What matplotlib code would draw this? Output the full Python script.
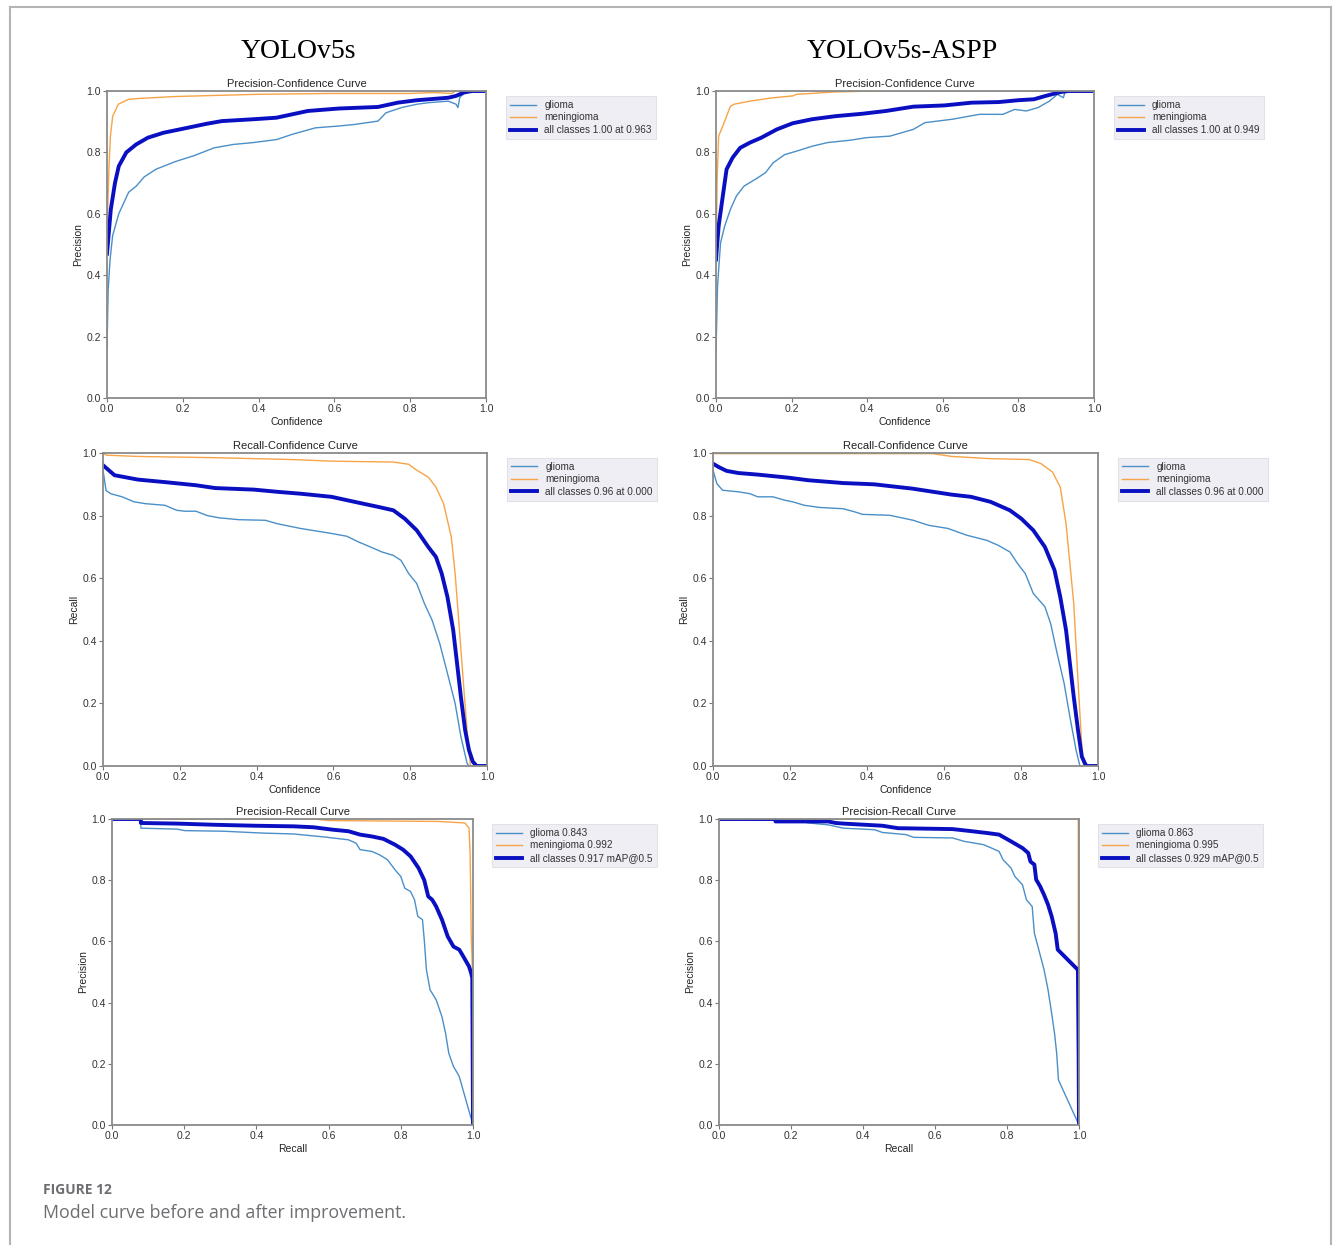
import matplotlib
matplotlib.use('Agg')
import matplotlib.pyplot as plt
from matplotlib.lines import Line2D

plt.rcParams['font.family'] = ['Liberation Sans', 'DejaVu Sans']

W, H = 1333, 1245

GLIOMA_C = '#4a8fc8'
MENIN_C = '#f7a448'
ALL_C = '#0a10c2'

# ---- YOLOv5s : Precision-Confidence ----
pc1_gl_x = [0, 0.003, 0.008, 0.015, 0.031, 0.057, 0.077, 0.098, 0.129, 0.18, 0.231, 0.283, 0.334, 0.386, 0.448,
            0.489, 0.55, 0.612, 0.653, 0.715, 0.736, 0.777, 0.818, 0.849, 0.9, 0.921, 0.926, 0.931, 0.95, 1.0]
pc1_gl_y = [0.16, 0.35, 0.45, 0.53, 0.60, 0.67, 0.69, 0.72, 0.745, 0.77, 0.79, 0.815, 0.826, 0.832, 0.842,
            0.859, 0.88, 0.886, 0.891, 0.902, 0.929, 0.946, 0.957, 0.962, 0.967, 0.957, 0.946, 0.98, 1.0, 1.0]
pc1_me_x = [0, 0.002, 0.005, 0.009, 0.015, 0.03, 0.057, 0.088, 0.18, 0.39, 0.59, 0.8, 0.86, 0.91, 0.92, 1.0]
pc1_me_y = [0.5, 0.62, 0.745, 0.853, 0.918, 0.957, 0.973, 0.976, 0.982, 0.989, 0.992, 0.992, 0.995, 0.992, 1.0, 1.0]
pc1_all_x = [0, 0.01, 0.021, 0.031, 0.051, 0.077, 0.108, 0.149, 0.2, 0.262, 0.303, 0.386, 0.447, 0.53, 0.612,
             0.715, 0.767, 0.818, 0.9, 0.921, 0.941, 0.963, 1.0]
pc1_all_y = [0.47, 0.614, 0.70, 0.755, 0.80, 0.826, 0.848, 0.864, 0.877, 0.893, 0.902, 0.908, 0.913, 0.935, 0.943,
             0.948, 0.962, 0.97, 0.978, 0.984, 0.995, 1.0, 1.0]

# ---- YOLOv5s-ASPP : Precision-Confidence ----
pc2_gl_x = [0, 0.004, 0.012, 0.023, 0.038, 0.054, 0.074, 0.11, 0.131, 0.151, 0.182, 0.213, 0.254, 0.295, 0.357,
            0.398, 0.46, 0.522, 0.553, 0.625, 0.697, 0.759, 0.79, 0.821, 0.852, 0.882, 0.903, 0.919, 0.924, 1.0]
pc2_gl_y = [0.147, 0.364, 0.505, 0.56, 0.614, 0.658, 0.69, 0.717, 0.734, 0.766, 0.793, 0.804, 0.82, 0.832, 0.84,
            0.848, 0.853, 0.875, 0.897, 0.908, 0.924, 0.924, 0.94, 0.935, 0.946, 0.967, 0.989, 0.978, 1.0, 1.0]
pc2_me_x = [0, 0.003, 0.007, 0.018, 0.028, 0.038, 0.048, 0.09, 0.151, 0.203, 0.213, 0.316, 0.42, 1.0]
pc2_me_y = [0.42, 0.71, 0.853, 0.886, 0.918, 0.95, 0.957, 0.967, 0.978, 0.984, 0.989, 0.997, 1.0, 1.0]
pc2_all_x = [0, 0.007, 0.018, 0.028, 0.044, 0.064, 0.09, 0.12, 0.161, 0.203, 0.254, 0.316, 0.388, 0.45, 0.522,
             0.604, 0.676, 0.748, 0.8, 0.841, 0.872, 0.913, 0.934, 1.0]
pc2_all_y = [0.451, 0.56, 0.658, 0.745, 0.783, 0.815, 0.832, 0.848, 0.875, 0.895, 0.908, 0.918, 0.926, 0.935,
             0.949, 0.953, 0.962, 0.964, 0.97, 0.973, 0.984, 0.997, 1.0, 1.0]

# ---- YOLOv5s : Recall-Confidence ----
rc1_gl_x = [0, 0.008, 0.02, 0.05, 0.081, 0.111, 0.161, 0.192, 0.212, 0.242, 0.272, 0.302, 0.353, 0.423, 0.454,
            0.514, 0.595, 0.635, 0.665, 0.696, 0.726, 0.756, 0.776, 0.796, 0.817, 0.837, 0.857, 0.877, 0.897,
            0.917, 0.932, 0.948, 0.953]
rc1_gl_y = [0.945, 0.88, 0.87, 0.86, 0.844, 0.838, 0.833, 0.817, 0.814, 0.814, 0.80, 0.793, 0.787, 0.785, 0.774,
            0.759, 0.743, 0.734, 0.716, 0.70, 0.684, 0.673, 0.657, 0.615, 0.583, 0.519, 0.466, 0.391, 0.296,
            0.20, 0.094, 0.009, 0.0]
rc1_me_x = [0, 0.01, 0.091, 0.292, 0.494, 0.595, 0.756, 0.796, 0.817, 0.847, 0.867, 0.887, 0.907, 0.917, 0.927,
            0.938, 0.948, 0.956, 0.958]
rc1_me_y = [0.998, 0.993, 0.989, 0.985, 0.979, 0.974, 0.971, 0.964, 0.945, 0.923, 0.891, 0.838, 0.732, 0.615,
            0.455, 0.274, 0.115, 0.009, 0.0]
rc1_all_x = [0, 0.015, 0.03, 0.091, 0.161, 0.242, 0.292, 0.393, 0.454, 0.514, 0.595, 0.655, 0.716, 0.756, 0.786,
             0.817, 0.847, 0.867, 0.882, 0.897, 0.912, 0.922, 0.932, 0.943, 0.953, 0.963, 0.973, 1.0]
rc1_all_y = [0.961, 0.945, 0.929, 0.915, 0.907, 0.897, 0.888, 0.883, 0.876, 0.87, 0.86, 0.844, 0.828, 0.817,
             0.79, 0.753, 0.70, 0.668, 0.615, 0.54, 0.434, 0.328, 0.221, 0.115, 0.051, 0.014, 0.0, 0.0]

# ---- YOLOv5s-ASPP : Recall-Confidence ----
rc2_gl_x = [0, 0.01, 0.025, 0.066, 0.096, 0.116, 0.156, 0.187, 0.207, 0.237, 0.277, 0.338, 0.368, 0.388, 0.459,
            0.52, 0.56, 0.61, 0.66, 0.711, 0.741, 0.771, 0.791, 0.811, 0.832, 0.862, 0.877, 0.892, 0.912, 0.927,
            0.943, 0.953]
rc2_gl_y = [0.945, 0.902, 0.881, 0.876, 0.87, 0.86, 0.86, 0.849, 0.844, 0.833, 0.826, 0.822, 0.812, 0.804, 0.801,
            0.785, 0.769, 0.759, 0.737, 0.721, 0.705, 0.684, 0.647, 0.615, 0.551, 0.509, 0.455, 0.37, 0.264,
            0.157, 0.051, 0.0]
rc2_me_x = [0, 0.57, 0.62, 0.72, 0.822, 0.852, 0.882, 0.902, 0.917, 0.927, 0.937, 0.948, 0.958, 0.963]
rc2_me_y = [0.998, 0.998, 0.989, 0.982, 0.979, 0.966, 0.939, 0.891, 0.774, 0.647, 0.519, 0.274, 0.062, 0.0]
rc2_all_x = [0, 0.015, 0.035, 0.066, 0.116, 0.197, 0.247, 0.338, 0.418, 0.519, 0.62, 0.67, 0.721, 0.771, 0.801,
             0.832, 0.862, 0.887, 0.902, 0.917, 0.927, 0.937, 0.948, 0.958, 0.968, 0.973, 1.0]
rc2_all_y = [0.966, 0.955, 0.943, 0.936, 0.931, 0.921, 0.913, 0.904, 0.9, 0.886, 0.867, 0.86, 0.844, 0.817, 0.79,
             0.753, 0.70, 0.626, 0.54, 0.434, 0.328, 0.221, 0.115, 0.03, 0.003, 0.0, 0.0]

# ---- YOLOv5s : Precision-Recall ----
pr1_gl_x = [0, 0.08, 0.08, 0.18, 0.202, 0.31, 0.417, 0.504, 0.59, 0.655, 0.676, 0.687, 0.72, 0.741, 0.763, 0.784,
            0.80, 0.811, 0.827, 0.838, 0.847, 0.86, 0.865, 0.871, 0.881, 0.898, 0.914, 0.924, 0.933, 0.946, 0.957,
            0.962, 1.0]
pr1_gl_y = [1.0, 1.0, 0.97, 0.967, 0.962, 0.96, 0.954, 0.951, 0.941, 0.932, 0.921, 0.90, 0.894, 0.883, 0.867,
            0.834, 0.812, 0.774, 0.763, 0.736, 0.682, 0.671, 0.605, 0.507, 0.442, 0.409, 0.354, 0.30, 0.234,
            0.191, 0.169, 0.158, 0.0]
pr1_me_x = [0, 0.558, 0.6, 0.903, 0.978, 0.989, 0.992, 0.995, 0.998, 1.0, 1.0]
pr1_me_y = [1.0, 1.0, 0.995, 0.992, 0.987, 0.97, 0.889, 0.627, 0.518, 0.45, 0.0]
pr1_all_x = [0, 0.08, 0.08, 0.18, 0.288, 0.396, 0.504, 0.558, 0.612, 0.655, 0.687, 0.72, 0.752, 0.784, 0.806,
             0.827, 0.849, 0.865, 0.876, 0.887, 0.898, 0.914, 0.93, 0.946, 0.962, 0.973, 0.989, 0.995, 0.998, 1.0]
pr1_all_y = [1.0, 1.0, 0.987, 0.985, 0.981, 0.978, 0.976, 0.973, 0.965, 0.96, 0.949, 0.943, 0.935, 0.916, 0.90,
             0.878, 0.84, 0.80, 0.747, 0.736, 0.714, 0.671, 0.616, 0.583, 0.573, 0.551, 0.518, 0.496, 0.48, 0.0]

# ---- YOLOv5s-ASPP : Precision-Recall ----
pr2_gl_x = [0, 0.157, 0.216, 0.249, 0.303, 0.346, 0.432, 0.454, 0.519, 0.541, 0.649, 0.681, 0.735, 0.757, 0.778,
            0.789, 0.811, 0.822, 0.843, 0.854, 0.870, 0.876, 0.886, 0.903, 0.914, 0.924, 0.932, 0.938, 0.943, 1.0]
pr2_gl_y = [1.0, 0.996, 0.996, 0.987, 0.981, 0.97, 0.965, 0.956, 0.949, 0.94, 0.938, 0.927, 0.916, 0.905, 0.894,
            0.867, 0.84, 0.812, 0.785, 0.736, 0.714, 0.627, 0.583, 0.507, 0.442, 0.365, 0.30, 0.234, 0.147, 0.0]
pr2_me_x = [0, 0.998, 0.998, 1.0]
pr2_me_y = [1.0, 1.0, 0.5, 0.0]
pr2_all_x = [0, 0.157, 0.157, 0.303, 0.324, 0.346, 0.454, 0.497, 0.649, 0.703, 0.746, 0.778, 0.811, 0.843, 0.859,
             0.865, 0.876, 0.881, 0.892, 0.903, 0.914, 0.924, 0.935, 0.941, 0.997, 0.999, 1.0]
pr2_all_y = [1.0, 1.0, 0.992, 0.992, 0.987, 0.985, 0.978, 0.97, 0.967, 0.96, 0.954, 0.949, 0.927, 0.905, 0.889,
             0.861, 0.851, 0.802, 0.78, 0.752, 0.72, 0.682, 0.627, 0.573, 0.507, 0.218, 0.0]

panels = [
    # (left, right, top, bottom) px, title, xlabel, ylabel, curves, legend labels
    ((107, 486, 91, 398), 'Precision-Confidence Curve', 'Confidence', 'Precision',
     [(pc1_gl_x, pc1_gl_y), (pc1_me_x, pc1_me_y), (pc1_all_x, pc1_all_y)],
     ['glioma', 'meningioma', 'all classes 1.00 at 0.963']),
    ((716, 1094, 91, 398), 'Precision-Confidence Curve', 'Confidence', 'Precision',
     [(pc2_gl_x, pc2_gl_y), (pc2_me_x, pc2_me_y), (pc2_all_x, pc2_all_y)],
     ['glioma', 'meningioma', 'all classes 1.00 at 0.949']),
    ((103, 487, 453, 766), 'Recall-Confidence Curve', 'Confidence', 'Recall',
     [(rc1_gl_x, rc1_gl_y), (rc1_me_x, rc1_me_y), (rc1_all_x, rc1_all_y)],
     ['glioma', 'meningioma', 'all classes 0.96 at 0.000']),
    ((713, 1098, 453, 766), 'Recall-Confidence Curve', 'Confidence', 'Recall',
     [(rc2_gl_x, rc2_gl_y), (rc2_me_x, rc2_me_y), (rc2_all_x, rc2_all_y)],
     ['glioma', 'meningioma', 'all classes 0.96 at 0.000']),
    ((112, 473, 819, 1125), 'Precision-Recall Curve', 'Recall', 'Precision',
     [(pr1_gl_x, pr1_gl_y), (pr1_me_x, pr1_me_y), (pr1_all_x, pr1_all_y)],
     ['glioma 0.843', 'meningioma 0.992', 'all classes 0.917 mAP@0.5']),
    ((719, 1079, 819, 1125), 'Precision-Recall Curve', 'Recall', 'Precision',
     [(pr2_gl_x, pr2_gl_y), (pr2_me_x, pr2_me_y), (pr2_all_x, pr2_all_y)],
     ['glioma 0.863', 'meningioma 0.995', 'all classes 0.929 mAP@0.5']),
]

fig = plt.figure(figsize=(W / 100, H / 100), dpi=100)
fig.patch.set_facecolor('white')

for (l, r, t, b), title, xl, yl, curves, labels in panels:
    ax = fig.add_axes([l / W, 1 - b / H, (r - l) / W, (b - t) / H])
    styles = [(GLIOMA_C, 1.0), (MENIN_C, 1.0), (ALL_C, 2.8)]
    for (xs, ys), (col, lw), lab in zip(curves, styles, labels):
        ax.plot(xs, ys, color=col, linewidth=lw, label=lab)
    ax.set_xlim(0, 1)
    ax.set_ylim(0, 1)
    ax.set_title(title, fontsize=8, color='#222222', pad=3)
    ax.set_xlabel(xl, fontsize=7.5, color='#222222', labelpad=2)
    ax.set_ylabel(yl, fontsize=7.5, color='#222222', labelpad=2)
    ax.tick_params(labelsize=7.5, length=3, width=0.8, color='#777777', labelcolor='#333333', pad=1.5)
    for s in ax.spines.values():
        s.set_color('#8a8a8a')
        s.set_linewidth(1.3)
    leg = ax.legend(bbox_to_anchor=(1.04, 1), loc='upper left', fontsize=7.2, frameon=True,
                    fancybox=False, borderpad=0.4, labelspacing=0.25, handlelength=2.6,
                    borderaxespad=0.5)
    leg.get_frame().set_facecolor('#eaeaf2')
    leg.get_frame().set_edgecolor('#dcdce4')
    leg.get_frame().set_linewidth(0.8)
    for txt in leg.get_texts():
        txt.set_color('#333333')

# model names
fig.text(298 / W, 1 - 52 / H, 'YOLOv5s', ha='center', va='center', fontsize=20,
         family='Liberation Serif', color='black')
fig.text(902 / W, 1 - 52 / H, 'YOLOv5s-ASPP', ha='center', va='center', fontsize=20,
         family='Liberation Serif', color='black')

# caption
fig.text(43 / W, 1 - 1190 / H, 'FIGURE 12', ha='left', va='center', fontsize=10,
         family='Open Sans', fontweight='bold', color='#6d6e71')
fig.text(43 / W, 1 - 1213 / H, 'Model curve before and after improvement.', ha='left', va='center',
         fontsize=12.8, family='Open Sans', color='#6d6e71')

# outer frame (top, left, right)
fc = '#b4b4b4'
fig.add_artist(Line2D([10 / W, 1331 / W], [1 - 7 / H, 1 - 7 / H], color=fc, lw=1.5, transform=fig.transFigure))
fig.add_artist(Line2D([10 / W, 10 / W], [1 - 7 / H, 0], color=fc, lw=1.5, transform=fig.transFigure))
fig.add_artist(Line2D([1331 / W, 1331 / W], [1 - 7 / H, 0], color=fc, lw=1.5, transform=fig.transFigure))

fig.savefig('out.png', dpi=100, facecolor='white')
